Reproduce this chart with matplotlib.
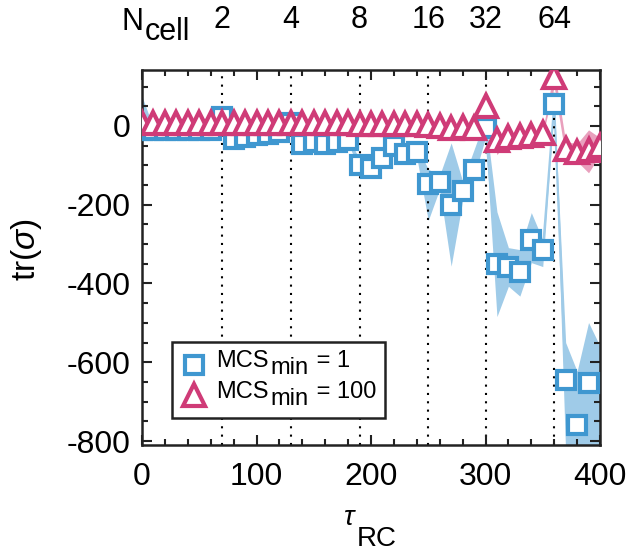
import numpy as np
import matplotlib
matplotlib.use("Agg")
import matplotlib.pyplot as plt
from matplotlib.ticker import MultipleLocator
from matplotlib.offsetbox import AnchoredOffsetbox, HPacker, VPacker, TextArea, DrawingArea
from matplotlib.lines import Line2D

plt.rcParams['font.family'] = ['Liberation Sans', 'DejaVu Sans']
plt.rcParams['mathtext.fontset'] = 'custom'
plt.rcParams['mathtext.rm'] = 'Liberation Sans'
plt.rcParams['mathtext.it'] = 'Liberation Sans:italic'
plt.rcParams['axes.unicode_minus'] = False

W, H = 642, 553

# tau_RC Werte
tau = np.arange(0, 410, 10)

# MCS_min = 1 (Mittelwert, obere / untere Grenze)
mcs1 = [-10, -10, -10, -10, -11, -11, -10, 22, -32, -28,
        -24, -20, -15, 8, -45, -40, -45, -40, -35, -99,
        -108, -82, -50, -72, -65, -148, -142, -200, -165, -112,
        -5, -350, -358, -370, -290, -316, 55, -645, -758, -653,
        -870]
mcs1_hi = [75, -4, -4, -4, -5, -5, -4, 28, -25, -22,
           -18, -14, -9, 14, -38, -33, -38, -33, -28, -85,
           -95, -70, -40, -60, -50, -110, -125, -43, -140, -60,
           20, -218, -309, -314, -220, -289, 65, -550, -623, -499,
           -559]
mcs1_lo = [-25, -16, -16, -16, -17, -17, -16, 16, -39, -34,
           -30, -26, -21, 2, -52, -47, -52, -47, -42, -115,
           -120, -95, -60, -85, -80, -240, -160, -356, -190, -130,
           -30, -484, -407, -432, -347, -357, 45, -830, -900, -900,
           -1100]

# MCS_min = 100
mcs100 = [8, 8, 8, 8, 8, 8, 8, 7, 7, 7,
          7, 7, 7, 7, 7, 7, 7, 7, 7, 4,
          4, 4, 4, 4, 4, 2, 0, -5, -2, -6,
          51, -35, -27, -25, -22, -18, 125, -58, -65, -60,
          -52]
mcs100_hi = [11, 11, 11, 11, 11, 11, 11, 10, 10, 10,
             10, 10, 10, 10, 10, 10, 10, 10, 10, 7,
             7, 7, 7, 7, 7, 5, 3, -2, 1, -3,
             62, -20, -20, -18, -15, -12, 145, -40, -45, -10,
             -30]
mcs100_lo = [5, 5, 5, 5, 5, 5, 5, 4, 4, 4,
             4, 4, 4, 4, 4, 4, 4, 4, 4, 1,
             1, 1, 1, 1, 1, -1, -3, -8, -5, -9,
             40, -73, -34, -32, -29, -24, 100, -80, -90, -119,
             -73]

# Zellzahl-Grenzen (obere Achse)
ncell_pos = [70, 130, 190, 250, 300, 360]
ncell_lab = ['2', '4', '8', '16', '32', '64']

legend_rest = [' = 1', ' = 100']

blue = '#3f97d0'
blue_light = '#9fcbe8'
pink = '#cf3b77'
pink_light = '#e9a0bd'
dark = '#222222'

fig = plt.figure(figsize=(W / 100, H / 100), dpi=100)
ax = fig.add_axes([142/W, 1 - 445/H, 458/W, 375/H])

ax.fill_between(tau, mcs1_lo, mcs1_hi, color=blue_light, lw=0, zorder=1)
ax.plot(tau, mcs1, color=blue_light, lw=1.5, zorder=1.2)
ax.fill_between(tau, mcs100_lo, mcs100_hi, color=pink_light, lw=0, zorder=1.3)

for xp in ncell_pos:
    ax.axvline(xp, color='black', lw=1.5, ls=(0, (1, 3)), zorder=1.5)

ax.plot(tau, mcs1, ls='none', marker='s', ms=13, mfc='white', mec=blue,
        mew=3, zorder=3)
ax.plot(tau, mcs100, ls='none', marker='^', ms=16, mfc='white', mec=pink,
        mew=3, zorder=4)

ax.set_xlim(0, 400)
ax.set_ylim(-810, 142)
ax.xaxis.set_major_locator(MultipleLocator(100))
ax.xaxis.set_minor_locator(MultipleLocator(20))
ax.yaxis.set_major_locator(MultipleLocator(200))
ax.yaxis.set_minor_locator(MultipleLocator(50))
ax.tick_params(which='both', direction='in', top=True, right=True,
               width=1.5, color=dark, labelsize=23)
ax.tick_params(which='major', length=7)
ax.tick_params(which='minor', length=4)
ax.tick_params(axis='x', pad=12)
ax.tick_params(axis='y', pad=8)
for s in ax.spines.values():
    s.set_linewidth(1.8)
    s.set_color(dark)

# obere Beschriftung N_cell
for xp, lab in zip(ncell_pos, ncell_lab):
    ax.annotate(lab, xy=(xp, (445 - 28) / 375), xycoords=('data', 'axes fraction'),
                ha='center', va='baseline', fontsize=22)
fig.text(144 / W, 1 - 30 / H, 'N', fontsize=22, ha='right', va='baseline')
fig.text(145 / W, 1 - 40 / H, 'cell', fontsize=22, ha='left', va='baseline')

ax.set_ylabel(r'tr($\sigma$)', fontsize=24)
ax.yaxis.set_label_coords(-0.215, 0.52)
fig.text(350 / W, 1 - 525 / H, r'$\tau$', fontsize=20, ha='center', va='baseline')
fig.text(357 / W, 1 - 546 / H, 'RC', fontsize=20, ha='left', va='baseline')


# Legende mit grossem tiefgestelltem "min" (wie im Original)
def legend_row(marker, ms, color, rest):
    da = DrawingArea(20, 20, 0, 0)
    da.add_artist(Line2D([10], [10], marker=marker, ms=ms, mfc='white',
                         mec=color, mew=3, ls='none'))
    tp = dict(fontsize=17)
    mcs = VPacker(children=[TextArea('MCS', textprops=tp), DrawingArea(1, 5)],
                  pad=0, sep=0)
    mn = TextArea('min', textprops=tp)
    rr = VPacker(children=[TextArea(rest, textprops=tp), DrawingArea(1, 5)],
                 pad=0, sep=0)
    txt = HPacker(children=[mcs, mn, rr], align='bottom', pad=0, sep=1)
    return HPacker(children=[da, txt], align='center', pad=0, sep=6)


rows = [legend_row('s', 13, blue, legend_rest[0]),
        legend_row('^', 16, pink, legend_rest[1])]
box = VPacker(children=rows, align='left', pad=0, sep=1)
leg = AnchoredOffsetbox(loc='lower left', child=box, pad=0.6, borderpad=0,
                        frameon=True, bbox_to_anchor=(0.0655, 0.072),
                        bbox_transform=ax.transAxes)
leg.patch.set_boxstyle('square', pad=0)
leg.patch.set_edgecolor(dark)
leg.patch.set_linewidth(1.8)
leg.set_zorder(10)
ax.add_artist(leg)

fig.savefig('out.png', dpi=100)
